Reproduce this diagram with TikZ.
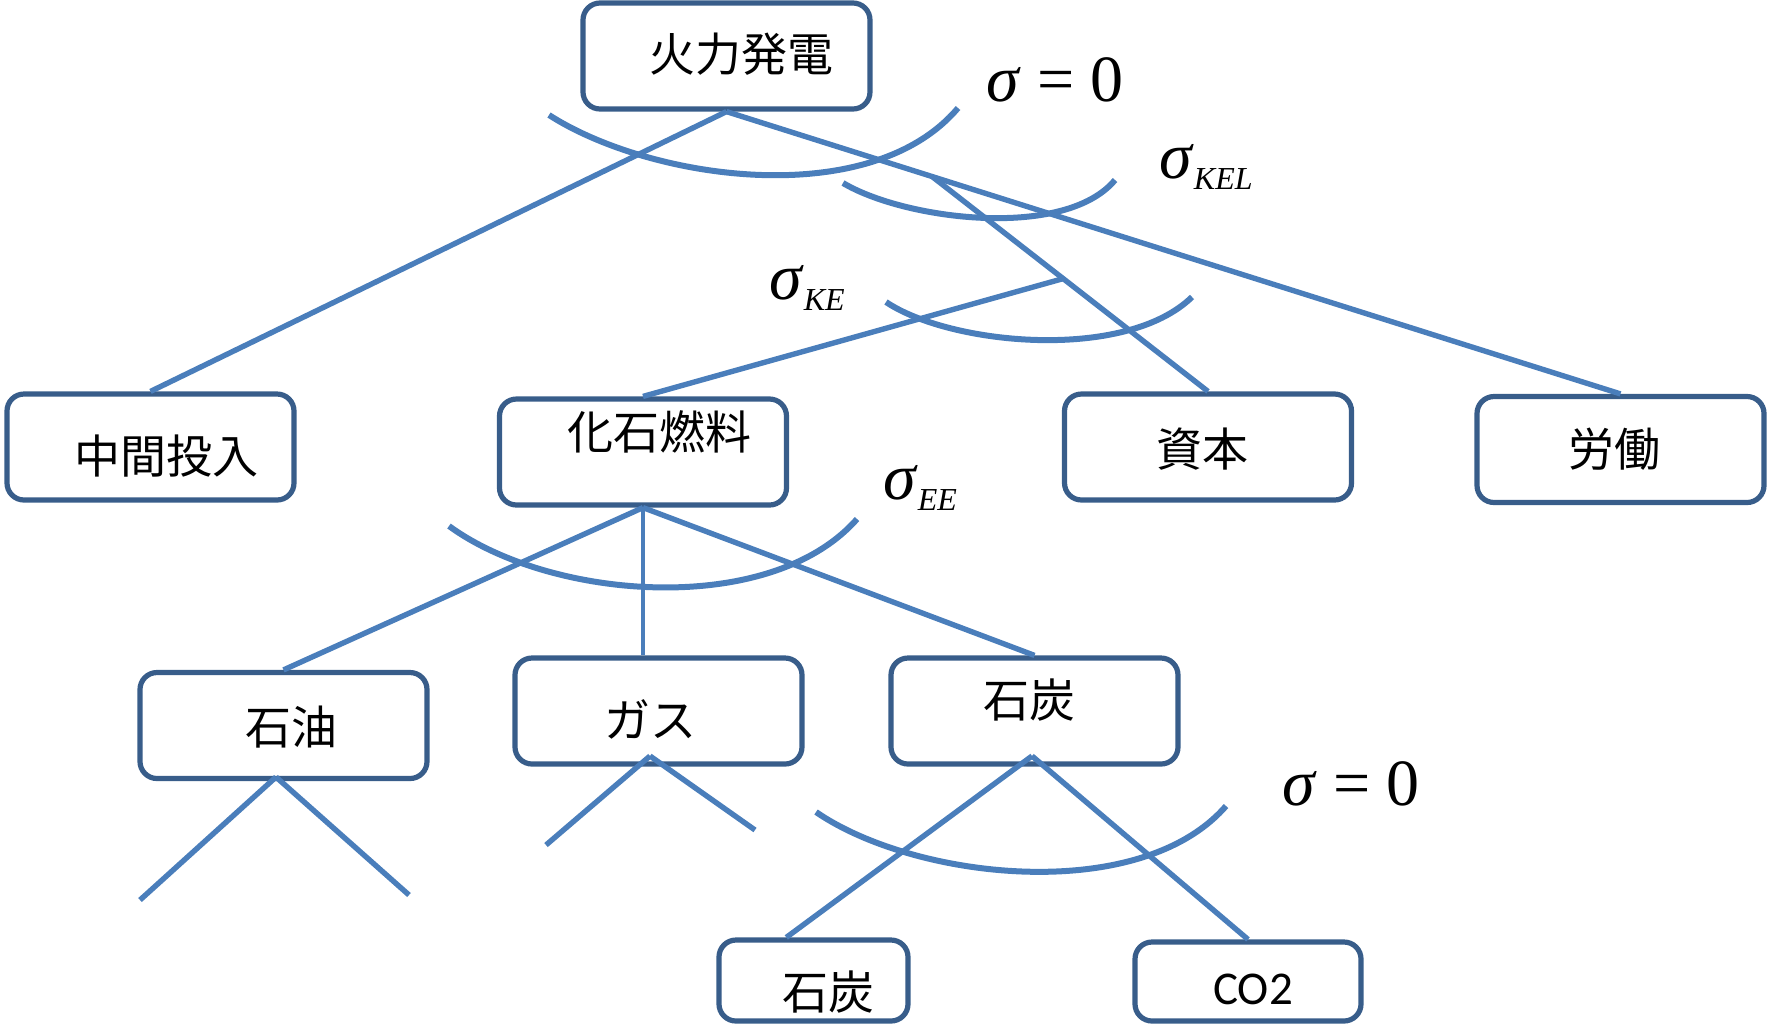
\documentclass[tikz,border=0pt]{standalone}
\usepackage{fontspec}
\newfontfamily\jpfont{Noto Sans CJK JP}
\newfontfamily\calfont{Carlito}
\newfontfamily\sigfont{Liberation Serif}
\usetikzlibrary{calc}
\definecolor{edgeblue}{HTML}{4A7EBB}
\definecolor{frameblue}{HTML}{385D8A}
\newcommand\sigsub[1]{\textit{σ}\raisebox{-0.16em}{\fontsize{16}{16}\selectfont\itshape #1}}
\begin{document}
\begin{tikzpicture}[x=0.5pt,y=-0.5pt,
  box/.style={draw=frameblue, line width=2.6pt, rounded corners=8.5pt, fill=white,
    minimum width=143.5pt, minimum height=53pt, inner sep=0pt},
  lbl/.style={font=\jpfont\fontsize{23}{23}\selectfont, inner sep=0pt},
  ln/.style={draw=edgeblue, line width=2.7pt},
  thinln/.style={draw=edgeblue, line width=2.3pt},
  arcln/.style={draw=edgeblue, line width=3pt},
  sig/.style={font=\sigfont\fontsize{33}{33}\selectfont, inner sep=0pt}]
\useasboundingbox (0,0) rectangle (1767,1030);

% boxes
\node[box] (top) at (726.5,56) {};
\node[box] (mid) at (150.5,447) {};
\node[box] (fuel) at (643,452) {};
\node[box] (cap) at (1208,447) {};
\node[box] (lab) at (1620.5,449.5) {};
\node[box] (oil) at (283.5,725.5) {};
\node[box] (gas) at (658.5,711) {};
\node[box] (coal) at (1034.5,711) {};
\node[box, minimum width=94.5pt, minimum height=40.5pt] (coalb) at (813.5,980.5) {};
\node[box, minimum width=113pt, minimum height=39.5pt] (co2) at (1248,981.5) {};

% texts
\node[lbl] (topt) at ($(top)+(15,-2)$) {火力発電};
\node[lbl] (midt) at ($(mid)+(16,9)$) {中間投入};
\node[lbl] (fuelt) at ($(fuel)+(16,-20)$) {化石燃料};
\node[lbl] (capt) at ($(cap)+(-6,2)$) {資本};
\node[lbl] (labt) at ($(lab)+(-6,0)$) {労働};
\node[lbl] (oilt) at ($(oil)+(8,2)$) {石油};
\node[lbl] (gast) at ($(gas)+(-8,8)$) {ガス};
\node[lbl] (coalt) at ($(coal)+(-5,-11)$) {石炭};
\node[lbl] (coalbt) at ($(coalb)+(15,12)$) {石炭};
\node[font=\calfont\fontsize{23.5}{23.5}\selectfont, inner sep=0pt] (co2t) at ($(co2)+(5,8)$) {CO2};

% upper tree
\draw[ln] (top.south) -- (mid.north);
\draw[ln] (top.south) -- (lab.north);
\coordinate (k1) at ($(top.south)!0.23!(lab.north)$);
\draw[ln] (k1) -- (cap.north);
\coordinate (k2) at ($(k1)!0.475!(cap.north)$);
\draw[ln] (k2) -- (fuel.north);

% fossil fuel branches
\draw[ln] (fuel.south) -- (oil.north);
\draw[thinln] (fuel.south) -- (fuel.south |- gas.north);
\draw[ln] (fuel.south) -- (coal.north);

% open branches
\coordinate (oa) at (276,777);
\coordinate (o1) at (140,900);
\coordinate (o2) at (409,895);
\draw[ln] (oa) -- (o1);
\draw[ln] (oa) -- (o2);
\coordinate (ga) at (650,756);
\coordinate (g1) at (546,845);
\coordinate (g2) at (755,830);
\draw[ln] (ga) -- (g1);
\draw[ln] (ga) -- (g2);
\coordinate (ca) at (1032,756);
\coordinate (cb) at ($(coalb.north west)!0.36!(coalb.north east)$);
\draw[ln] (ca) -- (cb);
\draw[ln] (ca) -- (co2.north);

% elasticity arcs
\coordinate (a1s) at (549,115); \coordinate (a1e) at (958,108);
\draw[arcln] (a1s) .. controls (650,180) and (870,212) .. (a1e);
\coordinate (a2s) at (843,183); \coordinate (a2e) at (1115,180);
\draw[arcln] (a2s) .. controls (905,220) and (1065,240) .. (a2e);
\coordinate (a3s) at (886,302); \coordinate (a3e) at (1192,297);
\draw[arcln] (a3s) .. controls (950,345) and (1125,362) .. (a3e);
\coordinate (a4s) at (449,526); \coordinate (a4e) at (857,519);
\draw[arcln] (a4s) .. controls (550,600) and (770,618) .. (a4e);
\coordinate (a5s) at (816,812); \coordinate (a5e) at (1226,806);
\draw[arcln] (a5s) .. controls (915,880) and (1140,905) .. (a5e);

% labels
\node[sig] (s1) at (1055,80) {\textit{σ} = 0};
\node[sig] (s2) at (1206,167) {\sigsub{KEL}};
\node[sig] (s3) at (807,288) {\sigsub{KE}};
\node[sig] (s4) at (920,488) {\sigsub{EE}};
\node[sig] (s5) at (1351,784) {\textit{σ} = 0};
\end{tikzpicture}
\end{document}
